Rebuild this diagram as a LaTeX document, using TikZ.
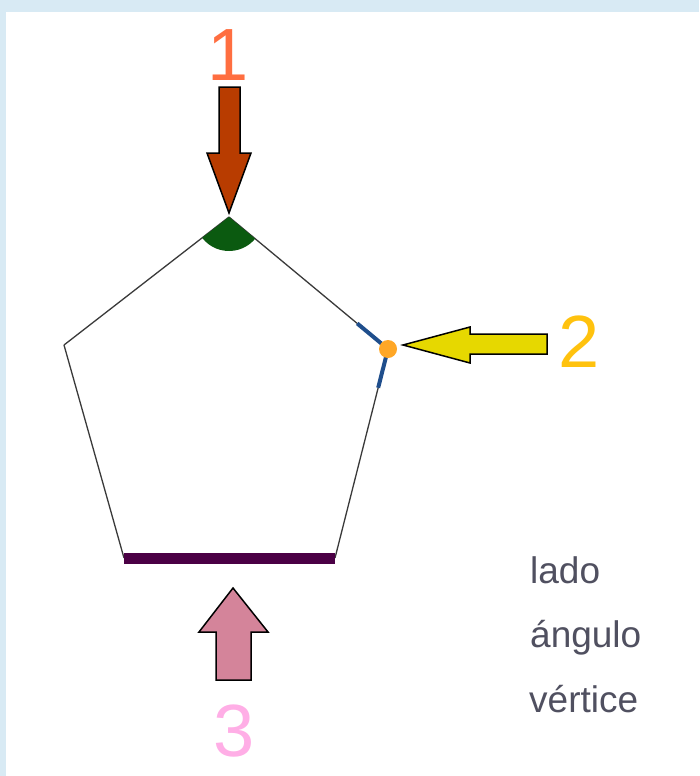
\documentclass[tikz,border=0pt]{standalone}
\usepackage{fontspec}
\setmainfont{Liberation Sans}
\usetikzlibrary{angles,calc}

\definecolor{framebl}{HTML}{D8EAF4}
\definecolor{edgegrey}{HTML}{3A3A3A}
\definecolor{sidepurple}{HTML}{4B0045}
\definecolor{anglegreen}{HTML}{0B5A10}
\definecolor{vertblue}{HTML}{1F4E8C}
\definecolor{dotorange}{HTML}{FFA726}
\definecolor{arrowred}{HTML}{B83C00}
\definecolor{arrowyellow}{HTML}{E6D800}
\definecolor{arrowpink}{HTML}{D4849A}
\definecolor{onecol}{HTML}{FF6E40}
\definecolor{twocol}{HTML}{FFC20E}
\definecolor{threecol}{HTML}{FFAEE6}
\definecolor{wordgrey}{HTML}{505060}

\begin{document}
\begin{tikzpicture}[x=1pt,y=1pt]
\fill[framebl] (0,0) rectangle (699,-776);
\fill[white] (6,-12) rectangle (699,-776);
\useasboundingbox (0,0) rectangle (699,-776);

% pentagon corners
\coordinate (T) at (229,-217);
\coordinate (L) at (64,-345);
\coordinate (R) at (388,-349);
\coordinate (BL) at (124,-558);
\coordinate (BR) at (335,-558);

\begin{scope}[every edge/.style={draw=edgegrey,line width=1.3pt}]
    \path (T) edge (L);
    \path (L) edge (BL);
    \path (T) edge (R);
    \path (R) edge (BR);
\end{scope}
\draw[line width=11pt,draw=sidepurple] (BL) -- (BR);
\pic[fill=anglegreen,angle radius=34pt] {angle=L--T--R};
\draw[vertblue,line width=4pt] ($(R)!40pt!(T)$) -- (R) -- ($(R)!40pt!(BR)$);
\fill[dotorange] (R) circle (9pt);

% the three arrows
\begin{scope}[every path/.style={draw=black,line width=1.5pt,line join=miter}]
    \path[fill=arrowred] (219,-87) -- (240,-87) -- (240,-153) -- (251,-153)
        -- (229,-213) -- (207,-153) -- (219,-153) -- cycle;
    \path[fill=arrowyellow] (547,-334) -- (470,-334) -- (470,-327) -- (403,-345)
        -- (470,-363) -- (470,-354) -- (547,-354) -- cycle;
    \path[fill=arrowpink] (216,-680) -- (216,-632) -- (199,-632) -- (233,-588)
        -- (268,-632) -- (251,-632) -- (251,-680) -- cycle;
\end{scope}

\begin{scope}[every node/.style={inner sep=0pt,font=\fontsize{74}{80}\selectfont,anchor=base}]
    \node[text=onecol] (one) at (228,-81) {1};
    \node[text=twocol] (two) at (579,-367) {2};
    \node[text=threecol] (three) at (234,-756) {3};
\end{scope}

\begin{scope}[every node/.style={inner sep=0pt,text=wordgrey,font=\fontsize{37}{44}\selectfont,anchor=base west}]
    \node (lado) at (530,-583) {lado};
    \node (angulo) at (530,-647) {ángulo};
    \node (vertice) at (529,-712) {vértice};
\end{scope}
\end{tikzpicture}
\end{document}
